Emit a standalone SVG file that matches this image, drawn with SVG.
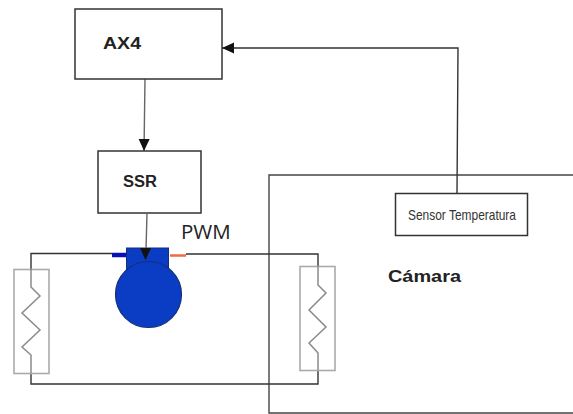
<svg xmlns="http://www.w3.org/2000/svg" width="573" height="414" viewBox="0 0 573 414">
<style>
.box{fill:#fff;stroke:#333;stroke-width:1.5}
.wire{fill:none;stroke:#333;stroke-width:1.4}
.coil{fill:none;stroke:#aaa;stroke-width:1.6}
.zig{fill:none;stroke:#8a8a8a;stroke-width:1.5}
.lbl{font-family:"Liberation Sans",Arial,sans-serif;font-weight:bold;fill:#222}
</style>
<defs>
<marker id="arrow" markerUnits="userSpaceOnUse" markerWidth="12" markerHeight="12" refX="12" refY="6" orient="auto"><path d="M0 0.5L12 6L0 11.5Z" fill="#111"/></marker>
</defs>
<rect width="573" height="414" fill="#fff"/>
<g id="camara"><path d="M573 175H269V413H573" class="wire" style="stroke:#444"/><text x="388" y="282" class="lbl" font-size="17" textLength="73" lengthAdjust="spacingAndGlyphs">Cámara</text></g>
<g id="connectors">
<path class="wire" d="M31 269V253.500H112M186 254H318V266M31 373V384H318V370"/>
<path class="wire" d="M145 79L144 151" marker-end="url(#arrow)" style="stroke:#666"/>
<path class="wire" d="M457 193L458 48H222" marker-end="url(#arrow)"/>
</g>
<g id="ax4"><rect class="box" x="75" y="9" width="147" height="70"/><text x="103" y="49" class="lbl" font-size="16.500" textLength="38" lengthAdjust="spacingAndGlyphs">AX4</text></g>
<g id="ssr"><rect class="box" x="98" y="151" width="103" height="62"/><text x="123" y="187" class="lbl" font-size="16" textLength="34" lengthAdjust="spacingAndGlyphs">SSR</text></g>
<g id="sensor"><rect class="box" x="395.500" y="193.500" width="132" height="42"/><text x="408" y="220" font-family="'Liberation Sans',sans-serif" font-size="15" fill="#333" textLength="108" lengthAdjust="spacingAndGlyphs">Sensor Temperatura</text></g>
<g id="compresor">
<path d="M112 255H126" stroke="#0a10b8" stroke-width="4.500" fill="none"/>
<path d="M170 255.500H186" stroke="#f0694a" stroke-width="2.500" fill="none"/>
<rect x="126.500" y="248" width="42" height="24" fill="#0a3cc4" stroke="#14307a"/>
<circle cx="148.500" cy="294.500" r="33" fill="#0a3cc4" stroke="#14307a" stroke-width="1.200"/>
</g>
<g id="pwm"><text x="181" y="239" font-family="'Open Sans','Liberation Sans',sans-serif" font-size="20.500" fill="#222">PWM</text></g>
<g id="ssr-compresor"><path class="wire" d="M147 213L146 250" style="stroke:#666"/><path d="M140 248H151L145.500 260Z" fill="#111"/></g>
<g id="coil-left"><rect class="coil" x="14" y="269.500" width="35" height="104"/><path class="zig" d="M31 269V287L40 296L22 313L40 330L22 347L31 355V373"/></g>
<g id="coil-right"><rect class="coil" x="300" y="266.500" width="35" height="104"/><path class="zig" d="M318 266V285L326 293L309 310L326 327L309 343L318 353V370"/></g>
</svg>
